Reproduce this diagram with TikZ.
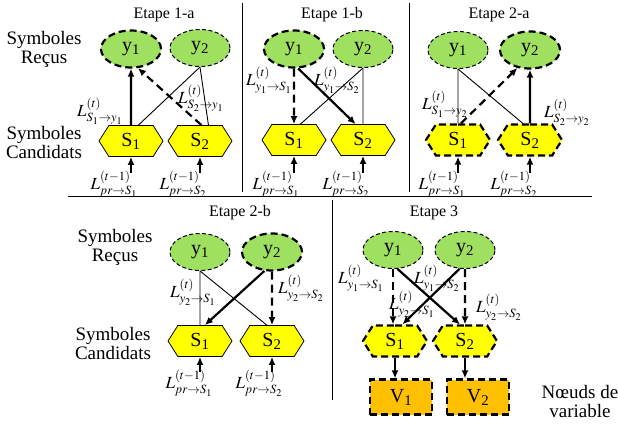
\documentclass[tikz,border=0pt]{standalone}
\usepackage{mathptmx}
\usepackage{fontspec}
\setmainfont{Liberation Serif}
\definecolor{vertclair}{RGB}{160, 224, 96}
\definecolor{jaunevif}{RGB}{255, 255, 0}
\definecolor{orangevar}{RGB}{255, 192, 0}
\usetikzlibrary{shapes.geometric, shapes.symbols, arrows.meta}

\newcommand{\Lmsg}[3]{$L^{(#1)}_{#2\rightarrow #3}$}

\begin{document}
\begin{tikzpicture}[x=1pt, y=-1pt,
    recu/.style={draw, ellipse, fill=vertclair, minimum width=60pt, minimum height=37pt, inner sep=0pt, font=\fontsize{20}{22}\selectfont, line width=1pt, dash pattern=on 4pt off 2.5pt},
    cand/.style={draw, signal, signal to=west and east, signal pointer angle=115, fill=jaunevif, minimum width=64pt, minimum height=31pt, inner sep=0pt, font=\fontsize{20}{22}\selectfont, line width=0.8pt},
    var/.style={draw, rectangle, fill=orangevar, minimum width=62pt, minimum height=35pt, inner sep=0pt, font=\fontsize{20}{22}\selectfont, actif},
    actif/.style={line width=2.2pt, dash pattern=on 7pt off 4pt},
    msg/.style={inner sep=0pt, font=\fontsize{17}{17}\selectfont},
    titre/.style={font=\fontsize{16}{16}\selectfont},
    legende/.style={align=center, font=\fontsize{19}{19}\selectfont},
    lien/.style={line width=0.9pt},
    fleche/.style={-{Latex[length=8pt,width=7pt]}, line width=2.2pt},
    flechept/.style={fleche, dash pattern=on 8pt off 5pt}]

\useasboundingbox (0,0) rectangle (618,425);

% Etape 1-a
\node[titre] (t1a) at (164,15) {Etape 1-a};
\node[legende] (recus1) at (44,49) {Symboles\\Reçus};
\node[legende] (cand1) at (44,143) {Symboles\\Candidats};
\node[recu, actif] (a-y1) at (131,49) {y\textsubscript{1}};
\node[recu] (a-y2) at (200,48) {y\textsubscript{2}};
\node[cand] (a-s1) at (131,141) {S\textsubscript{1}};
\node[cand] (a-s2) at (200,141) {S\textsubscript{2}};
\draw[lien] (a-s1.65) -- (a-y2.south);
\draw[lien] (a-y2.south) -- (a-s2.62);
\draw[fleche] (a-s1) -- (a-y1);
\draw[flechept] (a-s2.85) -- (a-y1.-70);
\node[msg] (a-m1) at (100,111) {\Lmsg{t}{S_1}{y_1}};
\node[msg] (a-m2) at (201,98) {\Lmsg{t}{S_2}{y_1}};
\coordinate (a-p1) at (131,173);
\coordinate (a-p2) at (200,173);
\draw[fleche] (a-p1) -- (a-s1);
\draw[fleche] (a-p2) -- (a-s2);
\node[msg] (a-r1) at (114,184) {\Lmsg{t-1}{pr}{S_1}};
\node[msg] (a-r2) at (183,184) {\Lmsg{t-1}{pr}{S_2}};

% Etape 1-b
\node[titre] (t1b) at (332,15) {Etape 1-b};
\node[recu, actif] (b-y1) at (294,49) {y\textsubscript{1}};
\node[recu] (b-y2) at (363,49) {y\textsubscript{2}};
\node[cand] (b-s1) at (294,140) {S\textsubscript{1}};
\node[cand] (b-s2) at (363,140) {S\textsubscript{2}};
\draw[lien] (b-s1.68) -- (b-y2.south);
\draw[lien] (b-y2) -- (b-s2);
\draw[flechept] (b-y1) -- (b-s1);
\draw[fleche] (b-y1.-78) -- (b-s2.115);
\node[msg] (b-m1) at (269,80) {\Lmsg{t}{y_1}{S_1}};
\node[msg] (b-m2) at (337,80) {\Lmsg{t}{y_1}{S_2}};
\coordinate (b-p1) at (294,173);
\coordinate (b-p2) at (363,173);
\draw[fleche] (b-p1) -- (b-s1);
\draw[fleche] (b-p2) -- (b-s2);
\node[msg] (b-r1) at (276,184) {\Lmsg{t-1}{pr}{S_1}};
\node[msg] (b-r2) at (346,184) {\Lmsg{t-1}{pr}{S_2}};

% Etape 2-a
\node[titre] (t2a) at (499,15) {Etape 2-a};
\node[recu] (c-y1) at (458,50) {y\textsubscript{1}};
\node[recu, actif] (c-y2) at (530,50) {y\textsubscript{2}};
\node[cand, actif] (c-s1) at (458,140) {S\textsubscript{1}};
\node[cand, actif] (c-s2) at (530,140) {S\textsubscript{2}};
\draw[lien] (c-y1) -- (c-s1);
\draw[lien] (c-y1.south) -- (c-s2.113);
\draw[fleche] (c-s2) -- (c-y2);
\draw[flechept] (c-s1.80) -- (c-y2.-125);
\node[msg] (c-m1) at (445,104) {\Lmsg{t}{S_1}{y_2}};
\node[msg] (c-m2) at (567,112) {\Lmsg{t}{S_2}{y_2}};
\coordinate (c-p1) at (458,173);
\coordinate (c-p2) at (530,173);
\draw[fleche] (c-p1) -- (c-s1);
\draw[fleche] (c-p2) -- (c-s2);
\node[msg] (c-r1) at (442,184) {\Lmsg{t-1}{pr}{S_1}};
\node[msg] (c-r2) at (514,184) {\Lmsg{t-1}{pr}{S_2}};

% separations
\draw (242,3) -- (242,192);
\draw (409,3) -- (409,192);
\draw (68,196) -- (592,196);
\draw (332,200) -- (332,400);

% Etape 2-b
\node[titre] (t2b) at (240,213) {Etape 2-b};
\node[legende] (recus2) at (115,247) {Symboles\\Reçus};
\node[legende] (cand2) at (113,343) {Symboles\\Candidats};
\node[recu] (d-y1) at (200,252) {y\textsubscript{1}};
\node[recu, actif] (d-y2) at (272,252) {y\textsubscript{2}};
\node[cand] (d-s1) at (200,341) {S\textsubscript{1}};
\node[cand] (d-s2) at (272,341) {S\textsubscript{2}};
\draw[lien] (d-y1) -- (d-s1);
\draw[lien] (d-y1.south) -- (d-s2.108);
\draw[fleche] (d-y2.-112) -- (d-s1.73);
\draw[flechept] (d-y2) -- (d-s2);
\node[msg] (d-m1) at (193,292) {\Lmsg{t}{y_2}{S_1}};
\node[msg] (d-m2) at (301,288) {\Lmsg{t}{y_2}{S_2}};
\coordinate (d-p1) at (200,372);
\coordinate (d-p2) at (272,372);
\draw[fleche] (d-p1) -- (d-s1);
\draw[fleche] (d-p2) -- (d-s2);
\node[msg] (d-r1) at (189,383) {\Lmsg{t-1}{pr}{S_1}};
\node[msg] (d-r2) at (259,383) {\Lmsg{t-1}{pr}{S_2}};

% Etape 3
\node[titre] (t3) at (434,213) {Etape 3};
\node[recu] (e-y1) at (393,250) {y\textsubscript{1}};
\node[recu] (e-y2) at (465,250) {y\textsubscript{2}};
\node[cand, actif] (e-s1) at (395,341) {S\textsubscript{1}};
\node[cand, actif] (e-s2) at (465,341) {S\textsubscript{2}};
\node[var] (e-v1) at (401,397) {V\textsubscript{1}};
\node[var] (e-v2) at (478,397) {V\textsubscript{2}};
\draw[flechept] (e-y1.south) -- (e-y1.south |- e-s1.north);
\draw[flechept] (e-y2) -- (e-s2);
\draw[fleche] (e-y1.-77) -- (e-s2.107);
\draw[fleche] (e-y2.-106) -- (e-s1.66);
\draw[fleche, line width=1.6pt] (e-s1.south) -- (e-s1.south |- e-v1.north);
\draw[fleche, line width=1.6pt] (e-s2.south) -- (e-s2.south |- e-v2.north);
\node[msg] (e-m1) at (361,278) {\Lmsg{t}{y_1}{S_1}};
\node[msg] (e-m2) at (437,278) {\Lmsg{t}{y_1}{S_2}};
\node[msg] (e-m3) at (412,304) {\Lmsg{t}{y_2}{S_1}};
\node[msg] (e-m4) at (499,307) {\Lmsg{t}{y_2}{S_2}};
\node[legende] (noeuds) at (580,401) {Nœuds de\\variable};
\end{tikzpicture}
\end{document}
